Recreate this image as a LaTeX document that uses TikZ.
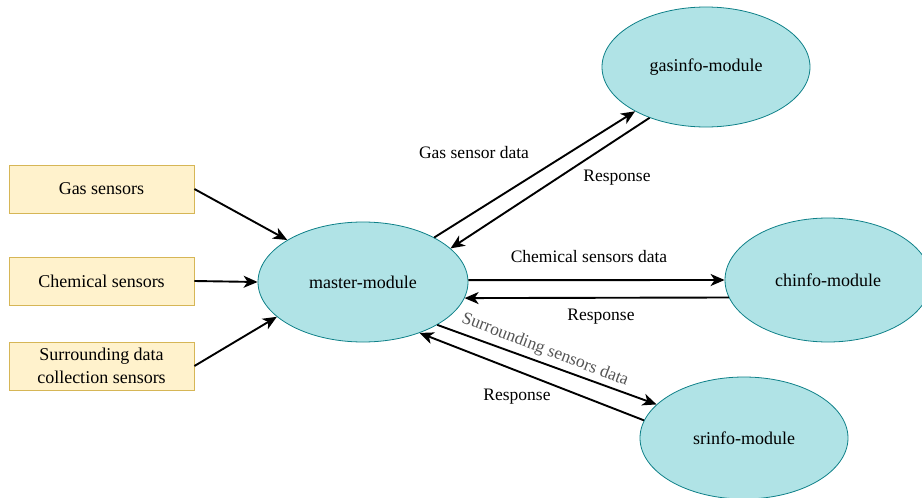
\documentclass[tikz,border=0pt]{standalone}
\usepackage{fontspec}
\setmainfont{Liberation Serif}
\usetikzlibrary{shapes.geometric,arrows.meta}
\definecolor{boxfill}{HTML}{FFF2CC}
\definecolor{boxline}{HTML}{D6B656}
\definecolor{modfill}{HTML}{B0E3E6}
\definecolor{modline}{HTML}{0E8088}
\definecolor{graytext}{HTML}{555555}
\begin{document}
\begin{tikzpicture}[x=1pt,y=-1pt,
  sensorbox/.style={draw=boxline,fill=boxfill,line width=0.8pt,rectangle,minimum width=185pt,minimum height=48pt,inner sep=0pt,align=center,font=\fontsize{18}{23}\selectfont},
  modnode/.style={draw=modline,fill=modfill,line width=0.8pt,ellipse,inner sep=0pt,font=\fontsize{18}{21}\selectfont},
  flow/.style={line width=1.9pt,-{Stealth[length=14pt,width=12pt,inset=4pt]}},
  lbl/.style={inner sep=0pt,font=\fontsize{17.5}{20}\selectfont}]
\useasboundingbox (0,0) rectangle (922,498);
% sensors
\node[sensorbox] (gas) at (101.5,189) {Gas sensors};
\node[sensorbox] (chem) at (101.5,281) {Chemical sensors};
\node[sensorbox] (surr) at (101.5,366) {Surrounding data\\collection sensors};
% modules
\node[modnode,minimum width=210pt,minimum height=120pt] (master) at (363,282) {master-module};
\node[modnode,minimum width=208pt,minimum height=120pt] (gasinfo) at (706,67) {gasinfo-module};
\node[modnode,minimum width=206pt,minimum height=124pt] (chinfo) at (828,280) {chinfo-module};
\node[modnode,minimum width=208pt,minimum height=122pt] (srinfo) at (744,438) {srinfo-module};
% inputs
\draw[flow] (gas.east) -- (master.151);
\draw[flow] (chem.east) -- (master.west);
\draw[flow] (surr.east) -- (master.202);
% gas exchange
\draw[flow] (master.32) -- (gasinfo.212);
\draw[flow] (gasinfo.222) -- (master.21);
% chemical exchange
\draw[flow] (master.1) -- (chinfo.west);
\draw[flow] (chinfo.190) -- (master.351);
% surrounding exchange
\draw[flow] (master.330) -- (srinfo.159);
\draw[flow] (srinfo.170) -- (master.318);
% labels
\node[lbl] (l1) at (474,153) {Gas sensor data};
\node[lbl] (l2) at (617,178) {Response};
\node[lbl] (l3) at (589,257) {Chemical sensors data};
\node[lbl] (l4) at (601,317) {Response};
\node[lbl,text=graytext,rotate=-21] (l5) at (545,350) {Surrounding sensors data};
\node[lbl] (l6) at (517,397) {Response};
\end{tikzpicture}
\end{document}
